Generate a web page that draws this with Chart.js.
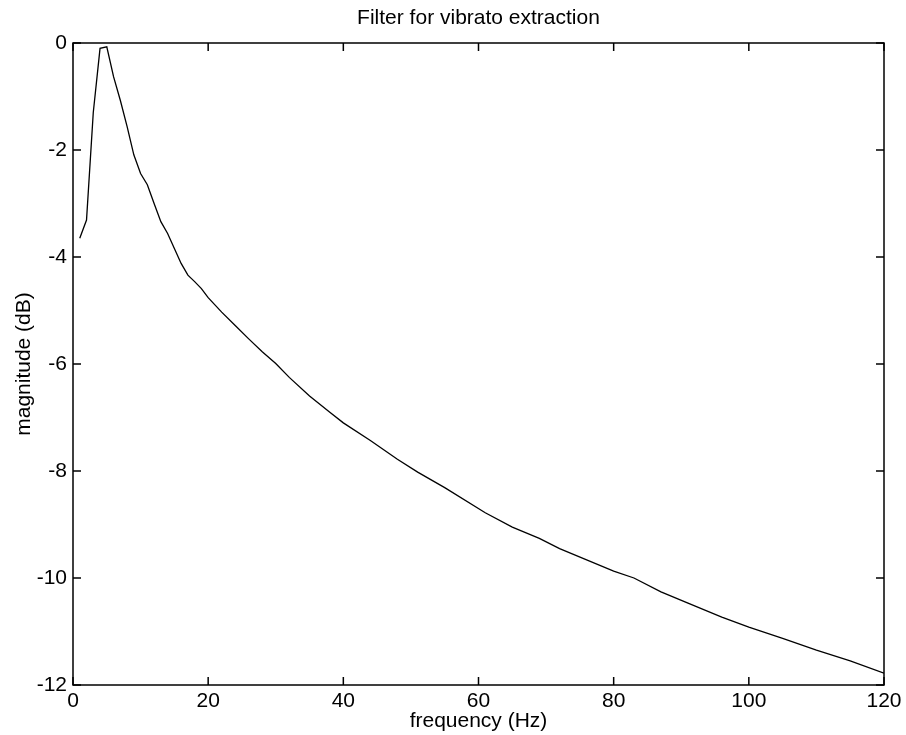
<!DOCTYPE html>
<html>
<head>
<meta charset="utf-8">
<script src="https://cdn.jsdelivr.net/npm/chart.js@4/dist/chart.umd.min.js"></script>
<style>
  html, body { margin: 0; padding: 0; background: #fff; }
  #wrap { width: 906px; height: 735px; position: relative; }
</style>
</head>
<body>
<div id="wrap"><canvas id="ch_vibrato"></canvas></div>
<script>
// frequency response (Hz / dB)
const freqHz = [1, 2, 3, 4, 5, 6, 7, 8, 9, 10, 11, 12, 13, 14, 15, 16, 17, 18, 19, 20,
  22, 24, 26, 28, 30, 32, 35, 38, 40, 44, 48, 51, 55, 61, 65, 69, 72, 76, 80, 83,
  87, 91, 96, 100, 105, 110, 115, 120];
const magDb = [-3.65, -3.31, -1.30, -0.10, -0.07, -0.63, -1.07, -1.56, -2.09, -2.44,
  -2.65, -3.00, -3.34, -3.56, -3.84, -4.12, -4.34, -4.46, -4.59, -4.76,
  -5.03, -5.28, -5.53, -5.77, -5.99, -6.25, -6.60, -6.90, -7.10, -7.43,
  -7.78, -8.02, -8.31, -8.78, -9.05, -9.26, -9.45, -9.66, -9.87, -10.00,
  -10.26, -10.47, -10.73, -10.92, -11.13, -11.35, -11.55, -11.78];

const xTicks = [0, 20, 40, 60, 80, 100, 120];
const yTicks = [0, -2, -4, -6, -8, -10, -12];

const FONT = { family: '"Liberation Sans", Arial, sans-serif', size: 21 };

// MATLAB-style box with inward ticks on all four sides
const boxPlugin = {
  id: 'boxTicks',
  afterDatasetsDraw(chart) {
    const { ctx, chartArea: a, scales } = chart;
    const tl = 8;
    ctx.save();
    ctx.strokeStyle = '#000';
    ctx.lineWidth = 1.5;
    ctx.strokeRect(a.left, a.top, a.right - a.left, a.bottom - a.top);
    ctx.beginPath();
    xTicks.forEach(v => {
      const px = scales.x.getPixelForValue(v);
      ctx.moveTo(px, a.bottom); ctx.lineTo(px, a.bottom - tl);
      ctx.moveTo(px, a.top);    ctx.lineTo(px, a.top + tl);
    });
    yTicks.forEach(v => {
      const py = scales.y.getPixelForValue(v);
      ctx.moveTo(a.left, py);  ctx.lineTo(a.left + tl, py);
      ctx.moveTo(a.right, py); ctx.lineTo(a.right - tl, py);
    });
    ctx.stroke();
    ctx.restore();
  }
};

new Chart(document.getElementById('ch_vibrato').getContext('2d'), {
  type: 'line',
  data: {
    datasets: [{
      data: freqHz.map((f, i) => ({ x: f, y: magDb[i] })),
      borderColor: '#000',
      borderWidth: 1.3,
      pointRadius: 0,
      tension: 0,
      fill: false
    }]
  },
  options: {
    responsive: true,
    maintainAspectRatio: false,
    animation: false,
    layout: { padding: { left: 0, right: 22, top: 0, bottom: 0 } },
    plugins: {
      legend: { display: false },
      tooltip: { enabled: false },
      title: {
        display: true,
        text: 'Filter for vibrato extraction',
        color: '#000',
        fullSize: false,
        font: { ...FONT, weight: 'normal' },
        padding: { top: 6, bottom: 11.8 }
      }
    },
    scales: {
      x: {
        type: 'linear',
        min: 0, max: 120,
        grid: { display: false, drawTicks: false },
        border: { display: false },
        afterBuildTicks: s => { s.ticks = xTicks.map(v => ({ value: v })); },
        afterFit: s => { s.height = 50; },
        ticks: { color: '#000', font: FONT, padding: 4, maxRotation: 0 },
        title: { display: true, text: 'frequency (Hz)', color: '#000', font: FONT, padding: { top: 0, bottom: 1 } }
      },
      y: {
        min: -12, max: 0,
        grid: { display: false, drawTicks: false },
        border: { display: false },
        afterBuildTicks: s => { s.ticks = yTicks.map(v => ({ value: v })); },
        afterFit: s => { s.width = 73; },
        ticks: { color: '#000', font: FONT, padding: 6 },
        title: { display: true, text: 'magnitude (dB)', color: '#000', font: FONT, padding: { top: 12, bottom: 0 } }
      }
    }
  },
  plugins: [boxPlugin]
});
</script>
</body>
</html>
